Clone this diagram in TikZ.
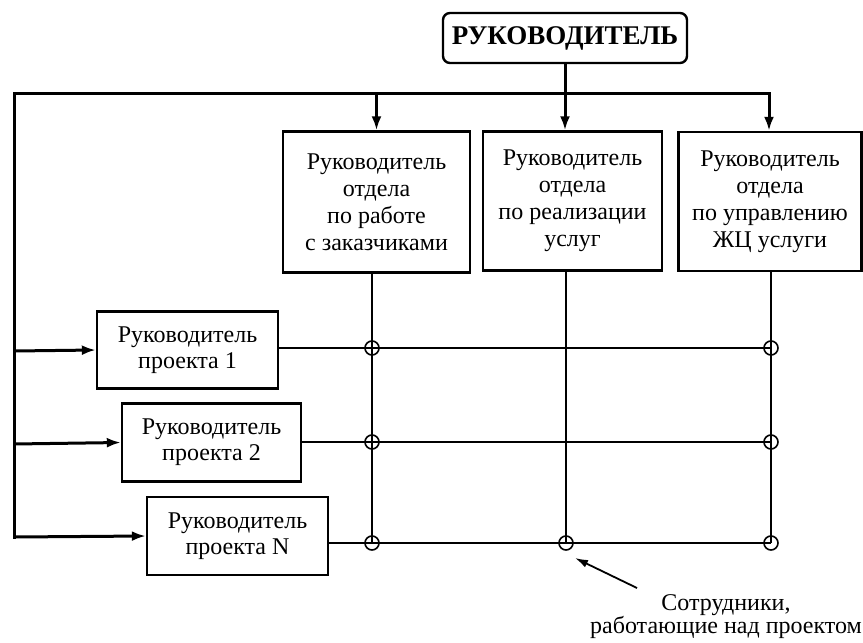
\documentclass[tikz,border=0pt]{standalone}
\usepackage{fontspec}
\setmainfont{Liberation Serif}
\usetikzlibrary{arrows.meta}
\begin{document}
\begin{tikzpicture}[x=1pt,y=-1pt,
  txt/.style={font=\fontsize{24}{27}\selectfont},
  box/.style={draw,line width=2.4pt,align=center,inner sep=0pt,txt},
  pbox/.style={box,font=\fontsize{24}{26}\selectfont},
  bus/.style={line width=3pt},
  thin/.style={line width=1.6pt},
  arr/.style={-{Latex[length=14pt,width=10pt]}},
  knot/.style={circle,draw,line width=1.6pt,minimum size=14pt,inner sep=0pt}]
\useasboundingbox (0,0) rectangle (863,643);

% head of the organisation
\node[box,rounded corners=7pt,minimum width=244pt,minimum height=50pt,
      font=\fontsize{27}{30}\selectfont\bfseries] (head) at (565,38) {РУКОВОДИТЕЛЬ};

% department heads
\node[box,minimum width=187pt,minimum height=141pt] (d1) at (376.5,202)
  {Руководитель\\отдела\\по работе\\с заказчиками};
\node[box,minimum width=179pt,minimum height=139pt] (d2) at (572.5,201)
  {Руководитель\\отдела\\по реализации\\услуг};
\node[box,minimum width=183pt,minimum height=139pt] (d3) at (770,201.5)
  {Руководитель\\отдела\\по управлению\\ЖЦ услуги};

% project managers
\node[pbox,minimum width=181pt,minimum height=77pt] (p1) at (187.5,350)
  {Руководитель\\проекта 1};
\node[pbox,minimum width=179pt,minimum height=78pt] (p2) at (211.5,442.5)
  {Руководитель\\проекта 2};
\node[pbox,minimum width=181pt,minimum height=78pt] (pn) at (237.5,536)
  {Руководитель\\проекта N};

% distribution bus
\coordinate (bl) at (14,93);
\coordinate (bh) at (head.south |- bl);
\coordinate (b1) at (d1.north |- bl);
\coordinate (b3t) at (769,93);
\coordinate (lb) at (14,537);
\draw[bus] (head.south) -- (bh);
\draw[bus,line cap=rect] (b3t) -- (bl) -- (lb);
\draw[bus,arr] (b1) -- (d1.north);
\draw[bus,arr] (bh) -- (d2.north -| bh);
\draw[bus,arr] (b3t) -- (b3t |- d3.north);
\draw[bus,arr] (14,351) -- (p1.west);
\draw[bus,arr] (14,444) -- (p2.west);
\draw[bus,arr] (lb) -- (pn.west);

% matrix of staff assignments
\coordinate (v1) at (372,0);
\coordinate (v2) at (566,0);
\coordinate (v3) at (771,0);
\coordinate (r1) at (0,348);
\coordinate (r2) at (0,442);
\coordinate (r3) at (0,543);
\draw[thin] (p1.east |- r1) -- (v3 |- r1);
\draw[thin] (p2.east |- r2) -- (v3 |- r2);
\draw[thin] (pn.east |- r3) -- (v3 |- r3);
\draw[thin] (v1 |- d1.south) -- (v1 |- r3);
\draw[thin] (v2 |- d2.south) -- (v2 |- r3);
\draw[thin] (v3 |- d3.south) -- (v3 |- r3);

\node[knot] (k11) at (v1 |- r1) {};
\node[knot] (k21) at (v1 |- r2) {};
\node[knot] (k31) at (v1 |- r3) {};
\node[knot] (k32) at (v2 |- r3) {};
\node[knot] (k13) at (v3 |- r1) {};
\node[knot] (k23) at (v3 |- r2) {};
\node[knot] (k33) at (v3 |- r3) {};

% caption with pointer
\node[align=center,inner sep=0pt,font=\fontsize{24}{23}\selectfont] (cap) at (726,617)
  {Сотрудники,\\работающие над проектом};
\coordinate (ct) at (637,588);
\draw[line width=1.8pt,-{Latex[length=13pt,width=8pt]}] (ct) -- (575,558);
\end{tikzpicture}
\end{document}
